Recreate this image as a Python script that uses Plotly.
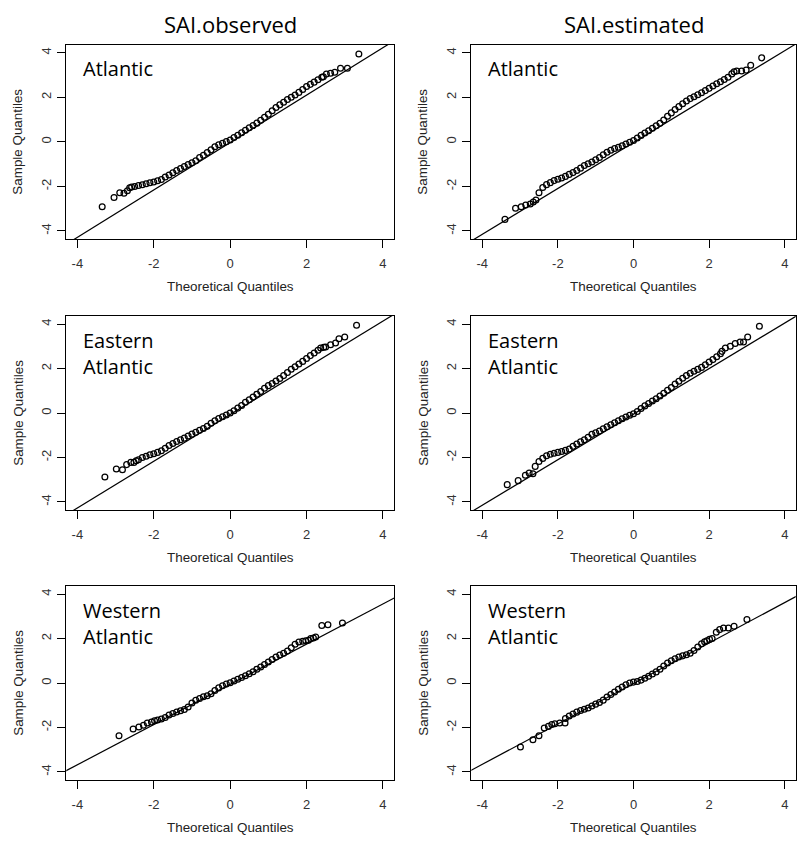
import plotly.graph_objects as go

W, H = 803, 843

col_titles = ["SAI.observed", "SAI.estimated"]
region_labels = ["Atlantic", "Eastern<br>Atlantic", "Western<br>Atlantic"]
tick_vals = [-4, -2, 0, 2, 4]
tick_text = ["-4", "-2", "0", "2", "4"]
x_title = "Theoretical Quantiles"
y_title = "Sample Quantiles"

# ---- Atlantic, SAI.observed ----
atl_obs_theo = [-3.35, -3.04, -2.89, -2.78, -2.69, -2.63, -2.58,
                -2.5, -2.4, -2.3, -2.2, -2.1, -2.0, -1.9, -1.8, -1.7, -1.6,
                -1.5, -1.4, -1.3, -1.2, -1.1, -1.0, -0.9, -0.8, -0.7, -0.6,
                -0.5, -0.4, -0.3, -0.2, -0.1, 0.0, 0.1, 0.2, 0.3, 0.4,
                0.5, 0.6, 0.7, 0.8, 0.9, 1.0, 1.1, 1.2, 1.3, 1.4,
                1.5, 1.6, 1.7, 1.8, 1.9, 2.0, 2.1, 2.2, 2.3, 2.4,
                2.44, 2.52, 2.63, 2.74, 2.89, 3.07, 3.37]
atl_obs_samp = [-2.91, -2.50, -2.28, -2.31, -2.19, -2.06, -2.03,
                -2.00, -1.96, -1.93, -1.88, -1.84, -1.80, -1.75, -1.69, -1.58, -1.49,
                -1.39, -1.29, -1.20, -1.11, -1.02, -0.94, -0.85, -0.70, -0.60, -0.48,
                -0.36, -0.22, -0.13, -0.06, 0.01, 0.08, 0.19, 0.30, 0.41, 0.52,
                0.63, 0.73, 0.84, 0.97, 1.10, 1.24, 1.40, 1.54, 1.66, 1.78,
                1.90, 2.00, 2.10, 2.22, 2.35, 2.48, 2.58, 2.68, 2.79, 2.90,
                2.92, 3.04, 3.08, 3.12, 3.30, 3.30, 3.94]

# ---- Atlantic, SAI.estimated ----
atl_est_theo = [-3.40, -3.12, -2.97, -2.85, -2.73, -2.65, -2.58,
                -2.5, -2.4, -2.3, -2.2, -2.1, -2.0, -1.9, -1.8, -1.7, -1.6,
                -1.5, -1.4, -1.3, -1.2, -1.1, -1.0, -0.9, -0.8, -0.7, -0.6,
                -0.5, -0.4, -0.3, -0.2, -0.1, 0.0, 0.1, 0.2, 0.3, 0.4,
                0.5, 0.6, 0.7, 0.8, 0.9, 1.0, 1.1, 1.2, 1.3, 1.4,
                1.5, 1.6, 1.7, 1.8, 1.9, 2.0, 2.1, 2.2, 2.3, 2.4, 2.5,
                2.60, 2.66, 2.73, 2.86, 2.98, 3.10, 3.39]
atl_est_samp = [-3.48, -2.98, -2.91, -2.83, -2.79, -2.70, -2.61,
                -2.28, -2.05, -1.92, -1.83, -1.74, -1.68, -1.62, -1.55, -1.46, -1.38,
                -1.29, -1.18, -1.06, -0.98, -0.90, -0.80, -0.70, -0.58, -0.47, -0.38,
                -0.30, -0.24, -0.18, -0.10, -0.02, 0.06, 0.17, 0.29, 0.40, 0.50,
                0.61, 0.72, 0.83, 0.98, 1.15, 1.30, 1.45, 1.58, 1.71, 1.83,
                1.94, 2.02, 2.11, 2.20, 2.30, 2.40, 2.51, 2.61, 2.70, 2.80, 2.90,
                3.05, 3.15, 3.18, 3.18, 3.22, 3.44, 3.77]

# ---- Eastern Atlantic, SAI.observed ----
east_obs_theo = [-3.28, -2.98, -2.82, -2.71, -2.60, -2.52, -2.46,
                 -2.4, -2.3, -2.2, -2.1, -2.0, -1.9, -1.8, -1.7, -1.6,
                 -1.5, -1.4, -1.3, -1.2, -1.1, -1.0, -0.9, -0.8, -0.7, -0.6,
                 -0.5, -0.4, -0.3, -0.2, -0.1, 0.0, 0.1, 0.2, 0.3, 0.4,
                 0.5, 0.6, 0.7, 0.8, 0.9, 1.0, 1.1, 1.2, 1.3, 1.4,
                 1.5, 1.6, 1.7, 1.8, 1.9, 2.0, 2.1, 2.2, 2.3,
                 2.37, 2.45, 2.50, 2.63, 2.76, 2.85, 3.00, 3.31]
east_obs_samp = [-2.88, -2.52, -2.55, -2.32, -2.22, -2.22, -2.15,
                 -2.10, -2.00, -1.94, -1.88, -1.83, -1.77, -1.70, -1.58, -1.46,
                 -1.37, -1.28, -1.20, -1.13, -1.03, -0.95, -0.87, -0.78, -0.70, -0.60,
                 -0.46, -0.35, -0.25, -0.17, -0.09, 0.00, 0.10, 0.22, 0.34, 0.48,
                 0.60, 0.72, 0.84, 0.97, 1.11, 1.23, 1.33, 1.44, 1.55, 1.68,
                 1.82, 1.97, 2.08, 2.20, 2.32, 2.45, 2.58, 2.70, 2.82,
                 2.92, 2.95, 2.97, 3.07, 3.15, 3.34, 3.42, 3.94]

# ---- Eastern Atlantic, SAI.estimated ----
east_est_theo = [-3.34, -3.05, -2.86, -2.76, -2.66, -2.60,
                 -2.5, -2.4, -2.3, -2.2, -2.1, -2.0, -1.9, -1.8, -1.7, -1.6,
                 -1.5, -1.4, -1.3, -1.2, -1.1, -1.0, -0.9, -0.8, -0.7, -0.6,
                 -0.5, -0.4, -0.3, -0.2, -0.1, 0.0, 0.1, 0.2, 0.3, 0.4,
                 0.5, 0.6, 0.7, 0.8, 0.9, 1.0, 1.1, 1.2, 1.3, 1.4,
                 1.5, 1.6, 1.7, 1.8, 1.9, 2.0, 2.1, 2.2, 2.3,
                 2.34, 2.43, 2.56, 2.69, 2.82, 2.91, 3.02, 3.33]
east_est_samp = [-3.22, -3.04, -2.80, -2.70, -2.73, -2.40,
                 -2.18, -2.04, -1.92, -1.85, -1.81, -1.77, -1.73, -1.68, -1.62, -1.50,
                 -1.39, -1.29, -1.20, -1.09, -0.96, -0.89, -0.81, -0.71, -0.62, -0.53,
                 -0.44, -0.35, -0.26, -0.18, -0.10, -0.03, 0.07, 0.20, 0.32, 0.43,
                 0.54, 0.64, 0.76, 0.89, 1.02, 1.15, 1.30, 1.43, 1.56, 1.68,
                 1.79, 1.88, 1.96, 2.05, 2.17, 2.29, 2.40, 2.53, 2.66,
                 2.77, 2.92, 3.00, 3.12, 3.19, 3.19, 3.42, 3.90]

# ---- Western Atlantic, SAI.observed ----
west_obs_theo = [-2.91, -2.54, -2.39, -2.27, -2.17, -2.06, -1.98,
                 -1.9, -1.8, -1.7, -1.6, -1.5, -1.4, -1.3, -1.2, -1.1, -1.0,
                 -0.9, -0.8, -0.7, -0.6, -0.5, -0.4, -0.3, -0.2, -0.1, 0.0,
                 0.1, 0.2, 0.3, 0.4, 0.5, 0.6, 0.7, 0.8, 0.9, 1.0,
                 1.1, 1.2, 1.3, 1.4, 1.5, 1.6, 1.7, 1.8, 1.9,
                 1.98, 2.05, 2.11, 2.18, 2.24, 2.40, 2.56, 2.94]
west_obs_samp = [-2.37, -2.07, -1.98, -1.90, -1.80, -1.75, -1.70,
                 -1.66, -1.62, -1.55, -1.44, -1.37, -1.30, -1.25, -1.19, -1.08, -0.90,
                 -0.78, -0.70, -0.62, -0.57, -0.48, -0.34, -0.22, -0.12, -0.05, 0.01,
                 0.09, 0.17, 0.25, 0.33, 0.42, 0.51, 0.62, 0.72, 0.83, 0.94,
                 1.06, 1.17, 1.26, 1.34, 1.44, 1.58, 1.74, 1.84, 1.88,
                 1.90, 1.92, 2.00, 2.02, 2.07, 2.58, 2.62, 2.70]

# ---- Western Atlantic, SAI.estimated ----
west_est_theo = [-2.99, -2.66, -2.50, -2.36, -2.25, -2.16, -2.08, -1.95, -1.81,
                 -1.8, -1.7, -1.6, -1.5, -1.4, -1.3, -1.2, -1.1, -1.0, -0.9,
                 -0.8, -0.7, -0.6, -0.5, -0.4, -0.3, -0.2, -0.1, 0.0, 0.1,
                 0.2, 0.3, 0.4, 0.5, 0.6, 0.7, 0.8, 0.9, 1.0, 1.1,
                 1.2, 1.3, 1.4, 1.5, 1.6, 1.7, 1.8,
                 1.88, 1.94, 2.01, 2.08, 2.19, 2.28, 2.38, 2.51, 2.66, 3.00]
west_est_samp = [-2.88, -2.55, -2.37, -2.02, -1.95, -1.87, -1.83, -1.80, -1.80,
                 -1.60, -1.48, -1.39, -1.31, -1.24, -1.18, -1.12, -1.03, -0.95, -0.88,
                 -0.77, -0.63, -0.52, -0.40, -0.28, -0.18, -0.08, 0.00, 0.04, 0.07,
                 0.13, 0.21, 0.30, 0.40, 0.50, 0.62, 0.76, 0.90, 1.00, 1.09,
                 1.17, 1.22, 1.27, 1.34, 1.46, 1.62, 1.76,
                 1.85, 1.90, 1.96, 2.00, 2.28, 2.40, 2.47, 2.47, 2.55, 2.85]

# qqline (through the quartiles) per panel
qq_slope = [1.064, 1.03, 1.05, 1.024, 0.904, 0.909]
qq_intercept = [-0.03, -0.03, -0.07, -0.05, -0.06, -0.02]

panels = [
    (atl_obs_theo, atl_obs_samp), (atl_est_theo, atl_est_samp),
    (east_obs_theo, east_obs_samp), (east_est_theo, east_est_samp),
    (west_obs_theo, west_obs_samp), (west_est_theo, west_est_samp),
]
for t, s in panels:
    assert len(t) == len(s), (len(t), len(s))

# ---- layout geometry (pixels) ----
col_px = [(66.3, 394.0), (471.3, 795.7)]
row_px = [(44.7, 239.0), (316.0, 510.0), (586.0, 780.0)]
XR = [-4.29, 4.29]
YR = [-4.36, 4.36]


def pxx(p):
    return p / W


def pxy(p):
    return 1 - p / H


TICK_FONT = dict(family="Liberation Sans, Arial, sans-serif", size=13, color="#333333")
LABEL_FONT = "Open Sans, sans-serif"

fig = go.Figure()
layout = dict(
    width=W, height=H,
    margin=dict(l=0, r=0, t=0, b=0),
    paper_bgcolor="white", plot_bgcolor="white",
    showlegend=False,
)
annotations = []

for i, (t, s) in enumerate(panels):
    r, c = divmod(i, 2)
    k = i + 1
    xa = "x" if k == 1 else f"x{k}"
    ya = "y" if k == 1 else f"y{k}"
    x0, x1 = col_px[c]
    y0, y1 = row_px[r]

    fig.add_trace(go.Scatter(
        x=t, y=s, mode="markers", xaxis=xa, yaxis=ya,
        marker=dict(symbol="circle-open", size=5.8, color="black",
                    line=dict(width=1.25, color="black")),
        hoverinfo="skip", cliponaxis=False,
    ))
    lx = [XR[0] - 0.5, XR[1] + 0.5]
    ly = [qq_intercept[i] + qq_slope[i] * v for v in lx]
    fig.add_trace(go.Scatter(
        x=lx, y=ly, mode="lines", xaxis=xa, yaxis=ya,
        line=dict(color="black", width=1.2), hoverinfo="skip",
    ))

    axis_common = dict(
        showline=True, mirror=True, linecolor="black", linewidth=1.2,
        ticks="outside", ticklen=8, tickwidth=1, tickcolor="black",
        tickvals=tick_vals, ticktext=tick_text, tickfont=TICK_FONT,
        showgrid=False, zeroline=False, fixedrange=True,
    )
    layout[f"xaxis{'' if k == 1 else k}"] = dict(
        axis_common, domain=[pxx(x0), pxx(x1)], range=XR, anchor=ya,
        ticklabelstandoff=4)
    layout[f"yaxis{'' if k == 1 else k}"] = dict(
        axis_common, domain=[pxy(y1), pxy(y0)], range=YR, anchor=xa,
        tickangle=-90, ticklabelstandoff=1)

    # region label
    nlines = region_labels[r].count("<br>") + 1
    annotations.append(dict(
        text=region_labels[r], xref="paper", yref="paper",
        x=pxx(x0 + 15), y=pxy(y0 + 24 + 13 * (nlines - 1)),
        xanchor="left", yanchor="middle", align="left", showarrow=False,
        font=dict(family=LABEL_FONT, size=20, color="black"),
    ))
    # axis titles
    annotations.append(dict(
        text=x_title, xref="paper", yref="paper",
        x=pxx((x0 + x1) / 2), y=pxy(y1 + 47),
        xanchor="center", yanchor="middle", showarrow=False,
        font=dict(family=TICK_FONT["family"], size=13.4, color="#222222"),
    ))
    annotations.append(dict(
        text=y_title, xref="paper", yref="paper",
        x=pxx(x0 - 48.5), y=pxy((y0 + y1) / 2), textangle=-90,
        xanchor="center", yanchor="middle", showarrow=False,
        font=dict(family=TICK_FONT["family"], size=13.4, color="#222222"),
    ))

for c in range(2):
    x0, x1 = col_px[c]
    annotations.append(dict(
        text=col_titles[c], xref="paper", yref="paper",
        x=pxx((x0 + x1) / 2), y=pxy(24),
        xanchor="center", yanchor="middle", showarrow=False,
        font=dict(family=LABEL_FONT, size=22, color="black"),
    ))

layout["annotations"] = annotations
fig.update_layout(**layout)
fig.write_html(
    "out.html",
    config={"displayModeBar": False, "staticPlot": True},
    post_script="document.body.style.margin='0';document.body.style.overflow='hidden';",
)
